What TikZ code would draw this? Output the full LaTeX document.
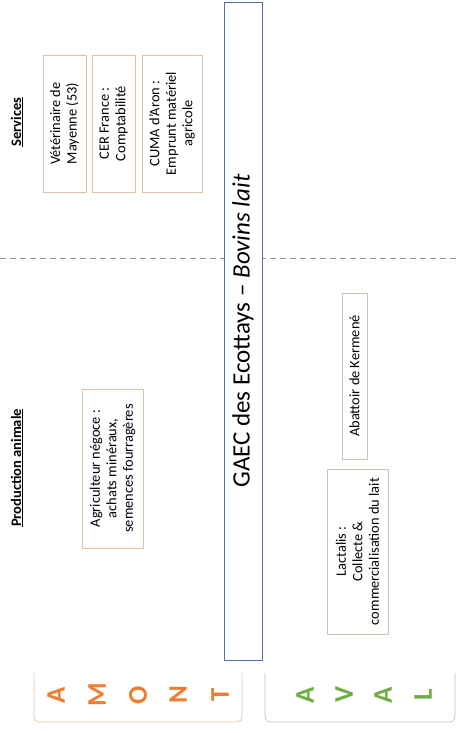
\documentclass[tikz,border=0pt]{standalone}
\usepackage{fontspec}
\setmainfont{Carlito}
\definecolor{amontclr}{HTML}{ED7D31}
\definecolor{avalclr}{HTML}{70AD47}
\definecolor{amontline}{HTML}{E3C6A6}
\definecolor{avalline}{HTML}{B6CCA6}
\definecolor{svcline}{HTML}{DCC4A2}
\definecolor{dwnline}{HTML}{BCCCB0}
\definecolor{mainline}{HTML}{4F6FB0}

\begin{document}
\begin{tikzpicture}[x=1pt, y=-1pt,
		vbox/.style={draw=#1, line width=0.8pt, fill=white, rotate=90, align=center, inner sep=0pt,
			font=\fontsize{14.4}{16.5}\selectfont},
		header/.style={rotate=90, font=\fontsize{14.5}{17}\selectfont\bfseries},
		letter/.style={rotate=90, font=\fontsize{27}{30}\selectfont\bfseries, text=#1},
		bracket/.style={draw=#1, line width=0.8pt, rounded corners=5pt},
		sep/.style={draw=gray!85, line width=1pt, dash pattern=on 6pt off 4pt}
		]
		\useasboundingbox (0,0) rectangle (456,733);
		
		% ==========================================
		% 1. SEPARATION LINE + MAIN BOX
		% ==========================================
		\coordinate (sep-l) at (0,258);
		\coordinate (sep-r) at (456,258);
		\draw[sep] (sep-l) -- (sep-r);
		
		\node[draw=mainline, line width=0.9pt, fill=white, rotate=90, minimum width=658pt, minimum height=38pt,
		inner sep=0pt, font=\fontsize{25}{28}\selectfont] (gaec) at (243,331)
		{GAEC des Ecottays -- \textit{Bovins lait}};
		
		% ==========================================
		% 2. SERVICES (top)
		% ==========================================
		\node[header] (services) at (17,122) {\underline{Services}};
		% Data format: name / center x / box thickness / text
		\foreach \name/\cx/\thk/\txt in {
			vet/64.5/43/{Vétérinaire de\\Mayenne (53)},
			cer/113.5/43/{CER France :\\Comptabilité},
			cuma/172/60/{CUMA d'Aron :\\Emprunt matériel\\agricole}%
		} {
			\node[vbox=svcline, minimum width=137pt, minimum height=\thk pt] (\name) at (\cx,123.5) {\txt};
		}
		
		% ==========================================
		% 3. PRODUCTION ANIMALE (amont)
		% ==========================================
		\node[header] (prod) at (17,468) {\underline{Production animale}};
		\node[vbox=svcline, minimum width=159pt, minimum height=61pt] (agri) at (112.5,468.5)
		{Agriculteur négoce :\\achats minéraux,\\semences fourragères};
		
		% ==========================================
		% 4. AVAL BOXES
		% ==========================================
		\node[vbox=dwnline, minimum width=166pt, minimum height=25pt] (abattoir) at (354.5,376)
		{Abattoir de Kermené};
		\node[vbox=dwnline, minimum width=165pt, minimum height=61pt] (lactalis) at (357.5,551.5)
		{Lactalis :\\Collecte \&\\commercialisation du lait};
		
		% ==========================================
		% 5. AMONT / AVAL BRACKETS
		% ==========================================
		\draw[bracket=amontline] (34,673) -- (34,722) -- (242,722) -- (242,673);
		\draw[bracket=avalline] (265,673) -- (265,722) -- (455,722) -- (455,673);
		\foreach \ch/\cx [count=\k] in {A/56, M/97, O/138, N/178, T/220} {
			\node[letter=amontclr] (amont-\k) at (\cx,695) {\ch};
		}
		\foreach \ch/\cx [count=\k] in {A/305, V/344, A/383, L/423} {
			\node[letter=avalclr] (aval-\k) at (\cx,695) {\ch};
		}
		
	\end{tikzpicture}
\end{document}
